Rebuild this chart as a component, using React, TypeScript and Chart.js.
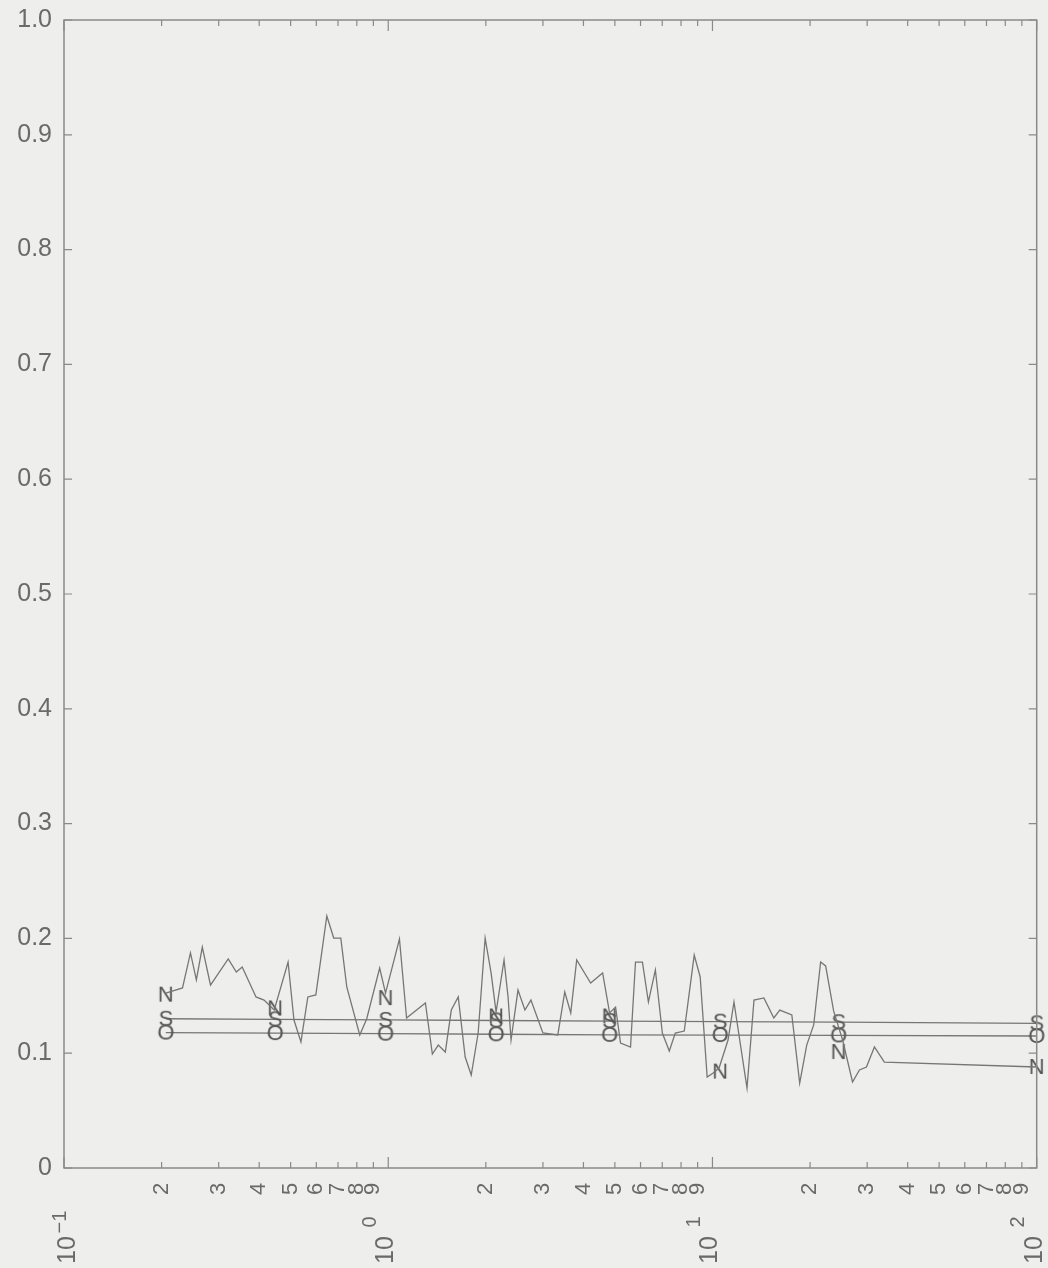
import React, { useEffect, useRef } from "react";
import { Chart, registerables } from "chart.js";

Chart.register(...registerables);

// Noisy "N" series (x on log axis, y fraction)
const nX = [
  0.206, 0.232, 0.2455, 0.256, 0.267, 0.283, 0.321, 0.34, 0.3545, 0.391, 0.414, 0.445,
  0.491, 0.512, 0.538, 0.565, 0.598, 0.6465, 0.679, 0.714, 0.745, 0.817, 0.858, 0.941,
  0.981, 1.083, 1.139, 1.302, 1.368, 1.427, 1.5, 1.565, 1.644, 1.727, 1.803, 1.894,
  1.99, 2.076, 2.151, 2.276, 2.342, 2.392, 2.513, 2.64, 2.755, 2.999, 3.334, 3.503,
  3.655, 3.813, 4.21, 4.584, 4.817, 5.025, 5.206, 5.588, 5.789, 6.081, 6.345, 6.667,
  7.005, 7.36, 7.679, 8.185, 8.785, 9.165, 9.63, 10.05, 10.48, 11.17, 11.65, 12.78,
  13.43, 14.41, 15.46, 16.13, 17.57, 18.58, 19.53, 20.52, 21.56, 22.34, 23.64, 25.2,
  27.04, 28.4, 29.85, 31.59, 33.9, 100,
];
const nY = [
  0.1524, 0.1568, 0.1873, 0.1638, 0.1925, 0.1594, 0.1821, 0.1707, 0.1751, 0.149, 0.1463, 0.1376,
  0.1794, 0.1289, 0.1098, 0.149, 0.1507, 0.2195, 0.2003, 0.2003, 0.1577, 0.1159, 0.1298, 0.1742,
  0.1524, 0.1995, 0.1307, 0.1437, 0.0993, 0.1071, 0.101, 0.1376, 0.149, 0.0967, 0.081, 0.1176,
  0.2003, 0.1699, 0.1359, 0.1812, 0.149, 0.1115, 0.155, 0.1376, 0.1463, 0.1176, 0.1159, 0.1533,
  0.135, 0.1812, 0.1611, 0.1699, 0.135, 0.1402, 0.1089, 0.1054, 0.1794, 0.1794, 0.1446, 0.1725,
  0.1176, 0.1019, 0.1176, 0.1193, 0.1855, 0.1664, 0.0793, 0.0828, 0.0871, 0.1115, 0.1446, 0.0697,
  0.1463, 0.1481, 0.1307, 0.1376, 0.1333, 0.074, 0.1071, 0.1246, 0.1794, 0.176, 0.1368, 0.1115,
  0.0749, 0.0854, 0.088, 0.1054, 0.0923, 0.088,
];

// Marker positions and the near-flat "S" and "O" series
const markerX = [0.206, 0.448, 0.981, 2.151, 4.817, 10.56, 24.49, 100];
const sY = [0.13, 0.1295, 0.129, 0.1285, 0.128, 0.1275, 0.127, 0.126];
const oY = [0.118, 0.1175, 0.117, 0.1165, 0.116, 0.1158, 0.1155, 0.115];
const nMarkY = [0.151, 0.139, 0.148, 0.132, 0.132, 0.084, 0.101, 0.088];

// Axis ticks
const yTicks = [0, 0.1, 0.2, 0.3, 0.4, 0.5, 0.6, 0.7, 0.8, 0.9, 1.0];
const yTickLabels = ["0", "0.1", "0.2", "0.3", "0.4", "0.5", "0.6", "0.7", "0.8", "0.9", "1.0"];
const decades = [0.1, 1, 10, 100];
const decadeExps = ["\u22121", "0", "1", "2"];
const minorDigits = [2, 3, 4, 5, 6, 7, 8, 9];

const LINE = "#767676";
const TEXT = "#6a6a6a";
const BG = "#eeeeec";

function letterCanvas(ch: string): HTMLCanvasElement {
  const c = document.createElement("canvas");
  c.width = 20;
  c.height = 26;
  const g = c.getContext("2d")!;
  g.fillStyle = "#555555";
  g.font = '22px "Liberation Sans"';
  g.textAlign = "center";
  g.textBaseline = "middle";
  g.fillText(ch, 10, 14);
  return c;
}

const decorPlugin = {
  id: "decor",
  beforeDraw(chart: any) {
    const { ctx, width, height } = chart;
    ctx.save();
    ctx.fillStyle = BG;
    ctx.fillRect(0, 0, width, height);
    ctx.restore();
  },
  afterDatasetsDraw(chart: any) {
    const { ctx, chartArea: a, scales } = chart;
    const xs = scales.x;
    const ys = scales.y;
    ctx.save();
    ctx.strokeStyle = "#8a8a8a";
    ctx.lineWidth = 1.5;
    ctx.strokeRect(a.left, a.top, a.right - a.left, a.bottom - a.top);

    // Y ticks and labels
    ctx.lineWidth = 1.2;
    ctx.fillStyle = TEXT;
    ctx.font = '25px "Liberation Sans"';
    ctx.textAlign = "right";
    ctx.textBaseline = "middle";
    yTicks.forEach((v, i) => {
      const py = ys.getPixelForValue(v);
      ctx.beginPath();
      ctx.moveTo(a.left, py);
      ctx.lineTo(a.left + 8, py);
      ctx.moveTo(a.right, py);
      ctx.lineTo(a.right - 8, py);
      ctx.stroke();
      ctx.fillText(yTickLabels[i], a.left - 12, py);
    });

    // X minor ticks and digit labels
    ctx.font = '22px "Liberation Sans"';
    ctx.textAlign = "center";
    decades.forEach((d, i) => {
      if (i === decades.length - 1) return;
      minorDigits.forEach((m) => {
        const px = xs.getPixelForValue(d * m);
        ctx.beginPath();
        ctx.moveTo(px, a.bottom);
        ctx.lineTo(px, a.bottom - 6);
        ctx.moveTo(px, a.top);
        ctx.lineTo(px, a.top + 6);
        ctx.stroke();
        ctx.save();
        ctx.translate(px, a.bottom + 21);
        ctx.rotate(-Math.PI / 2);
        ctx.fillText(String(m), 0, 0);
        ctx.restore();
      });
    });

    // X major ticks and labels
    decades.forEach((d, i) => {
      const px = xs.getPixelForValue(d);
      ctx.beginPath();
      ctx.moveTo(px, a.bottom);
      ctx.lineTo(px, a.bottom - 11);
      ctx.moveTo(px, a.top);
      ctx.lineTo(px, a.top + 11);
      ctx.stroke();
      ctx.save();
      ctx.translate(Math.max(px - 2, 68), a.bottom + 82);
      ctx.rotate(-Math.PI / 2);
      ctx.font = '25px "Liberation Sans"';
      ctx.textAlign = "center";
      ctx.fillText("10", 0, 0);
      ctx.restore();
      ctx.save();
      ctx.translate(Math.max(px - 18, 60), a.bottom + 54);
      ctx.rotate(-Math.PI / 2);
      ctx.font = '20px "Liberation Sans"';
      ctx.textAlign = "center";
      ctx.fillText(decadeExps[i], 0, 0);
      ctx.restore();
    });
    ctx.restore();
  },
};

export default function App() {
  const ref = useRef<HTMLCanvasElement | null>(null);
  useEffect(() => {
    if (!ref.current) return;
    const nLetter = letterCanvas("N");
    const sLetter = letterCanvas("S");
    const oLetter = letterCanvas("O");
    const chart = new Chart(ref.current, {
      type: "line",
      data: {
        datasets: [
          {
            label: "N",
            data: nX.map((x, i) => ({ x, y: nY[i] })),
            borderColor: LINE,
            borderWidth: 1.3,
            pointRadius: 0,
            tension: 0,
          },
          {
            label: "S",
            data: markerX.map((x, i) => ({ x, y: sY[i] })),
            borderColor: LINE,
            borderWidth: 1.3,
            pointStyle: sLetter as any,
            pointRadius: 10,
            tension: 0,
            clip: false as any,
          },
          {
            label: "O",
            data: markerX.map((x, i) => ({ x, y: oY[i] })),
            borderColor: LINE,
            borderWidth: 1.3,
            pointStyle: oLetter as any,
            pointRadius: 10,
            tension: 0,
            clip: false as any,
          },
          {
            label: "N markers",
            data: markerX.map((x, i) => ({ x, y: nMarkY[i] })),
            showLine: false,
            pointStyle: nLetter as any,
            pointRadius: 10,
            clip: false as any,
          },
        ],
      },
      options: {
        animation: false,
        responsive: false,
        maintainAspectRatio: false,
        layout: { padding: { left: 64, right: 7, top: 20, bottom: 100 } },
        plugins: { legend: { display: false }, tooltip: { enabled: false } },
        scales: {
          x: { type: "logarithmic", min: 0.1, max: 100, display: false },
          y: { type: "linear", min: 0, max: 1, display: false },
        },
      },
      plugins: [decorPlugin],
    });
    return () => chart.destroy();
  }, []);
  return (
    <div style={{ position: "absolute", left: 0, top: 0, width: 1048, height: 1268 }}>
      <canvas ref={ref} width={1048} height={1268} style={{ display: "block" }} />
    </div>
  );
}
